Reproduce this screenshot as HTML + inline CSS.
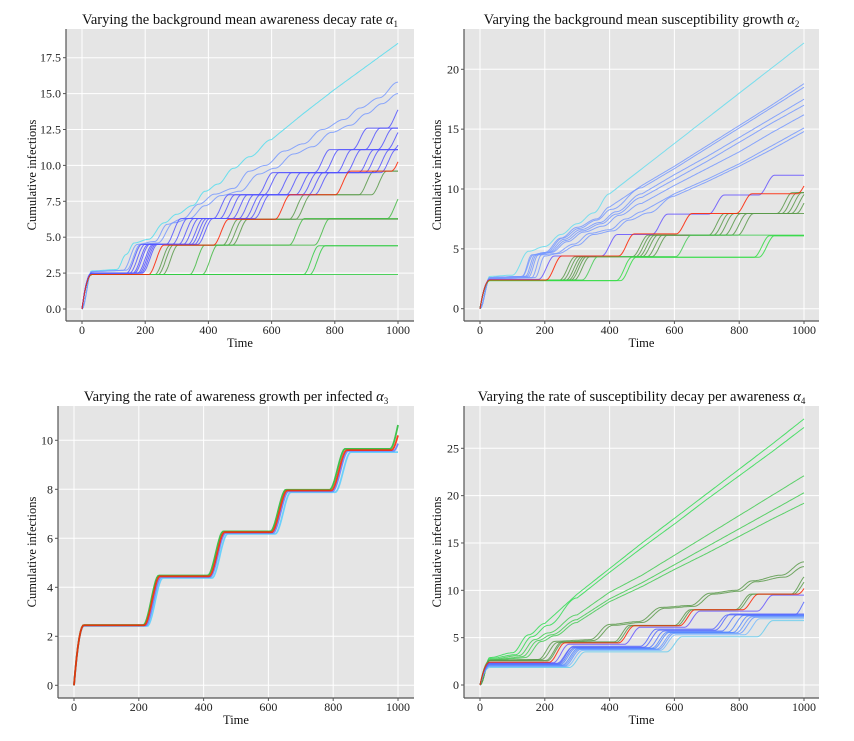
<!DOCTYPE html>
<html><head><meta charset="utf-8"><style>
html,body{margin:0;padding:0;background:#fff;}
svg{display:block;font-family:"Liberation Serif",serif;}
</style></head><body>
<svg id="chart" width="854" height="741" viewBox="0 0 854 741" xmlns="http://www.w3.org/2000/svg"></svg>
<script>
// ---------- data ----------
const xTicks = [0,200,400,600,800,1000];
const p1YTicks = [0,2.5,5,7.5,10,12.5,15,17.5];
const p2YTicks = [0,5,10,15,20];
const p3YTicks = [0,2,4,6,8,10];
const p4YTicks = [0,5,10,15,20,25];
const p1YLabels = ["0.0","2.5","5.0","7.5","10.0","12.5","15.0","17.5"];
const titles = ["Varying the background mean awareness decay rate ","Varying the background mean susceptibility growth ","Varying the rate of awareness growth per infected ","Varying the rate of susceptibility decay per awareness "];
const alphaSubs = ["1","2","3","4"];

// step series: lv = plateau levels, st = step times
const p1Steps = [
 {c:"#5a9a4a",lv:[2.4,4.45,6.25,7.95,9.6],st:[255,470,680,900]},
 {c:"#5a9a4a",lv:[2.4,4.45,6.25,7.95,9.6],st:[265,485,700,940]},
 {c:"#5a9a4a",lv:[2.4,4.45,6.25],st:[280,500]},
 {c:"#44bb44",lv:[2.4,4.45,6.3,8.0],st:[365,680,990]},
 {c:"#44bb44",lv:[2.4,4.45,6.3],st:[405,760]},
 {c:"#33cc44",lv:[2.4,4.4],st:[725]},
 {c:"#33cc44",lv:[2.4,4.4],st:[745]},
 {c:"#33cc44",lv:[2.4],st:[]},
 {c:"#5555ff",lv:[2.5,4.5,6.3,7.95,9.5,11.1,12.6,14.2],st:[165,290,440,580,760,880,990]},
 {c:"#5555ff",lv:[2.5,4.5,6.3,7.95,9.5,11.1,12.6],st:[175,310,460,600,790,920]},
 {c:"#5555ff",lv:[2.5,4.5,6.3,7.95,9.5,11.1,12.6],st:[185,330,480,640,830,960]},
 {c:"#5555ff",lv:[2.5,4.5,6.3,7.95,9.5,11.1,12.6],st:[190,345,500,670,860,990]},
 {c:"#5555ff",lv:[2.5,4.5,6.3,7.95,9.5,11.1,12.6],st:[200,360,520,700,900,1010]},
 {c:"#5555ff",lv:[2.5,4.5,6.3,7.95,9.5,11.1],st:[205,370,540,720,920]},
 {c:"#5555ff",lv:[2.5,4.5,6.3,7.95,9.5,11.1],st:[210,380,555,740,950]},
 {c:"#5555ff",lv:[2.5,4.5,6.3,7.95,9.5,11.1],st:[215,390,570,760,970]},
 {c:"#ff2200",lv:[2.4,4.45,6.25,7.95,9.6,11.2],st:[235,440,635,825,1003]}
];
const p1Pts = [
 {c:"#55ddee",p:[[0,0],[30,2.65],[110,2.75],[140,3.8],[165,4.6],[210,4.85],[260,6.0],[300,6.6],[350,7.2],[390,8.2],[430,8.7],[480,9.8],[530,10.6],[600,11.8],[700,13.6],[800,15.3],[900,16.9],[1000,18.5]]},
 {c:"#7799ff",p:[[0,0],[30,2.6],[130,2.7],[175,4.5],[230,4.7],[270,5.9],[320,6.3],[370,7.3],[420,8.0],[480,8.4],[530,9.6],[580,10.0],[640,11.0],[700,11.5],[760,12.5],[830,13.2],[880,14.0],[940,14.7],[1000,15.8]]},
 {c:"#7799ff",p:[[0,0],[30,2.6],[140,2.7],[185,4.5],[240,4.6],[290,6.0],[340,6.3],[390,7.2],[440,7.9],[500,8.2],[560,9.4],[610,9.8],[670,10.8],[730,11.3],[790,12.3],[850,12.8],[900,13.6],[950,14.3],[1000,15.0]]}
];
const p2Steps = [
 {c:"#5a9a4a",lv:[2.4,4.35,6.15,7.95,9.7],st:[270,495,730,940]},
 {c:"#5a9a4a",lv:[2.4,4.35,6.15,7.95,9.7],st:[280,505,745,955]},
 {c:"#5a9a4a",lv:[2.4,4.35,6.15,7.95,9.7],st:[290,515,760,970]},
 {c:"#5a9a4a",lv:[2.4,4.35,6.15,7.95,9.7],st:[298,525,780,985]},
 {c:"#5a9a4a",lv:[2.4,4.35,6.15,7.95,9.7],st:[305,540,800,1000]},
 {c:"#5a9a4a",lv:[2.4,4.35,6.15,7.95],st:[315,555,820]},
 {c:"#44cc55",lv:[2.4,4.35,6.15],st:[340,628]},
 {c:"#33dd44",lv:[2.35,4.3,6.1],st:[445,870]},
 {c:"#33dd44",lv:[2.35,4.3,6.1],st:[458,885]},
 {c:"#6655ff",lv:[2.45,4.4,6.2,7.9,9.5,11.15],st:[205,400,555,730,885]},
 {c:"#ff2200",lv:[2.4,4.4,6.25,7.95,9.6,11.2],st:[228,452,630,815,1003]}
];
const p2Pts = [
 {c:"#66ddee",p:[[0,0],[30,2.7],[100,2.8],[150,4.8],[200,5.2],[250,6.2],[300,7.1],[350,8.0],[400,9.6],[1000,22.2]]},
 {c:"#7799ff",p:[[0,0],[30,2.6],[130,2.7],[160,4.5],[200,4.7],[250,5.9],[300,6.8],[360,7.5],[400,8.5],[500,10.3],[600,11.9],[700,13.6],[800,15.3],[900,17.0],[1000,18.8]]},
 {c:"#7799ff",p:[[0,0],[30,2.6],[130,2.7],[165,4.5],[205,4.7],[255,5.9],[305,6.7],[360,7.4],[405,8.3],[500,10.1],[600,11.7],[700,13.4],[800,15.1],[900,16.8],[1000,18.5]]},
 {c:"#7799ff",p:[[0,0],[30,2.6],[140,2.7],[170,4.5],[210,4.7],[260,5.8],[310,6.6],[370,7.2],[420,8.1],[500,9.6],[600,11.2],[700,12.7],[800,14.3],[900,15.9],[1000,17.5]]},
 {c:"#7799ff",p:[[0,0],[30,2.6],[145,2.7],[175,4.5],[215,4.7],[265,5.7],[315,6.5],[375,7.1],[420,7.9],[500,9.3],[600,10.8],[700,12.3],[800,13.9],[900,15.5],[1000,17.0]]},
 {c:"#7799ff",p:[[0,0],[30,2.55],[150,2.65],[180,4.5],[220,4.7],[270,5.6],[320,6.4],[380,6.9],[430,7.8],[500,8.8],[600,10.3],[700,11.7],[800,13.1],[900,14.7],[1000,16.2]]},
 {c:"#7799ff",p:[[0,0],[30,2.5],[160,2.6],[190,4.5],[230,4.6],[290,5.4],[340,6.3],[400,6.6],[450,7.5],[500,8.1],[600,9.6],[700,10.8],[800,12.1],[900,13.6],[1000,15.1]]},
 {c:"#7799ff",p:[[0,0],[30,2.5],[170,2.6],[200,4.4],[240,4.6],[300,5.3],[350,6.2],[410,6.5],[460,7.4],[520,8.0],[600,9.4],[700,10.6],[800,11.9],[900,13.3],[1000,14.8]]}
];
const p3Steps = [
 {c:"#55ccff",lv:[2.42,4.38,6.18,7.88,9.52,9.8],st:[250,450,645,830,1040]},
 {c:"#6677ff",lv:[2.44,4.42,6.22,7.92,9.57,11.0],st:[245,444,638,822,1010]},
 {c:"#22bb33",lv:[2.46,4.48,6.28,7.98,9.65,11.6],st:[238,437,630,813,1000]},
 {c:"#ff2200",lv:[2.45,4.45,6.25,7.95,9.6,11.2],st:[241,441,634,818,1004]}
];
const p3Pts = [];
const p4Steps = [
 {c:"#66ccee",lv:[1.85,3.5,5.1,6.8],st:[300,600,880]},
 {c:"#77bbff",lv:[1.95,3.65,5.3,7.0],st:[292,580,840]},
 {c:"#6699ff",lv:[2.0,3.75,5.45,7.15],st:[286,575,825]},
 {c:"#6699ff",lv:[2.05,3.8,5.5,7.2],st:[282,570,815]},
 {c:"#5588ff",lv:[2.1,3.85,5.55,7.3],st:[278,560,805]},
 {c:"#5588ff",lv:[2.15,3.9,5.6,7.35],st:[272,555,790]},
 {c:"#5577ff",lv:[2.2,3.95,5.7,7.4],st:[268,545,770]},
 {c:"#5566ff",lv:[2.3,4.0,5.8,7.5],st:[262,530,750]},
 {c:"#5566ff",lv:[2.25,4.1,5.9,7.4,9.5],st:[265,520,740,995]},
 {c:"#6655ff",lv:[2.35,4.3,6.1,7.8,9.5],st:[250,470,655,880]},
 {c:"#5a9a4a",lv:[2.6,4.55,6.3,7.95,9.6,11.6],st:[228,438,625,812,985]},
 {c:"#5a9a4a",lv:[2.55,4.5,6.25,7.95,9.6,11.3],st:[232,445,632,820,992]},
 {c:"#ff2200",lv:[2.4,4.45,6.25,7.95,9.6,11.3],st:[238,452,640,835,1005]}
];
const p4Pts = [
 {c:"#33dd55",p:[[0,0],[30,2.9],[100,3.4],[150,5.3],[200,6.5],[300,9.6],[400,12.3],[500,15.0],[600,17.6],[700,20.2],[800,22.8],[900,25.4],[1000,28.1]]},
 {c:"#33dd55",p:[[0,0],[30,2.8],[110,3.2],[160,5.1],[210,6.3],[300,9.2],[400,11.9],[500,14.5],[600,17.0],[700,19.6],[800,22.1],[900,24.6],[1000,27.2]]},
 {c:"#44cc55",p:[[0,0],[30,2.7],[120,3.1],[170,4.8],[210,5.5],[300,7.4],[400,9.8],[500,11.6],[600,13.7],[700,15.8],[800,17.9],[900,20.0],[1000,22.1]]},
 {c:"#44cc55",p:[[0,0],[30,2.6],[130,3.0],[180,4.7],[220,5.3],[300,6.9],[400,9.1],[500,10.8],[600,12.7],[700,14.6],[800,16.5],[900,18.4],[1000,20.3]]},
 {c:"#44cc55",p:[[0,0],[30,2.6],[140,2.9],[190,4.6],[230,5.2],[300,6.6],[400,8.8],[500,10.4],[600,12.2],[700,13.9],[800,15.7],[900,17.5],[1000,19.2]]},
 {c:"#5a9a4a",p:[[0,0],[30,2.6],[180,2.7],[230,4.6],[340,4.8],[400,6.4],[490,6.7],[560,8.2],[650,8.4],[710,9.7],[790,10.0],[840,11.0],[930,11.6],[1000,13.0]]},
 {c:"#5a9a4a",p:[[0,0],[30,2.6],[190,2.7],[240,4.5],[350,4.7],[410,6.3],[500,6.6],[570,8.1],[660,8.3],[720,9.6],[800,9.9],[850,10.9],[940,11.4],[1000,12.5]]}
];

// ---------- layout ----------
const panels = [
 {L:66,R:414,T:29,B:321,xa:82,xb:398,y0:309,yr:57.7,yv:17.5,yt:p1YTicks,yl:p1YLabels,steps:p1Steps,pts:p1Pts,lw:1},
 {L:464,R:819,T:29,B:321,xa:480,xb:804,y0:308.7,yr:69.3,yv:20,yt:p2YTicks,yl:null,steps:p2Steps,pts:p2Pts,lw:1},
 {L:58,R:414,T:406,B:698,xa:74,xb:398,y0:685.3,yr:440.3,yv:10,yt:p3YTicks,yl:null,steps:p3Steps,pts:p3Pts,lw:1.8},
 {L:464,R:819,T:406,B:698,xa:480,xb:804,y0:685,yr:448.3,yv:25,yt:p4YTicks,yl:null,steps:p4Steps,pts:p4Pts,lw:1}
];
const NS="http://www.w3.org/2000/svg";
const svg=document.getElementById('chart');
function mk(tag,attrs,parent){const e=document.createElementNS(NS,tag);for(const k in attrs)e.setAttribute(k,attrs[k]);(parent||svg).appendChild(e);return e;}
function smooth(f){f=Math.max(0,Math.min(1,f));return f*f*(3-2*f);}
function stepVal(s,t){
  if(t<30){const f=t/30;return s.lv[0]*(1-(1-f)*(1-f));}
  let v=s.lv[0];
  for(let i=0;i<s.st.length;i++){const d=s.lv[i+1]-s.lv[i];v+=d*smooth((t-(s.st[i]-24))/48);}
  return v;
}
function ptsVal(p,t){
  for(let i=1;i<p.length;i++){if(t<=p[i][0]){const a=p[i-1],b=p[i];const f=(t-a[0])/(b[0]-a[0]);const g=(1-Math.cos(Math.PI*f))/2;const lin=a[1]+(b[1]-a[1])*f;const cs=a[1]+(b[1]-a[1])*g;return (b[0]-a[0])>=100?lin:cs;}}
  return p[p.length-1][1];
}
panels.forEach((P,pi)=>{
  const g=mk('g',{});
  
  
  const sx=t=>P.xa+(P.xb-P.xa)*t/1000;
  const sy=v=>P.y0-(P.y0-P.yr)*v/P.yv;
  const bg=mk('rect',{x:P.L,y:P.T,width:P.R-P.L,height:P.B-P.T,fill:'#e5e5e5'},g);
  
  
  xTicks.forEach(t=>{
    const l=mk('line',{x1:sx(t),x2:sx(t),y1:P.T,y2:P.B,stroke:'#fff','stroke-width':1},g);
    
    
    mk('line',{x1:sx(t),x2:sx(t),y1:P.B,y2:P.B+3,stroke:'#555','stroke-width':1},g);
    const tx=mk('text',{x:sx(t),y:P.B+13,'text-anchor':'middle','font-size':12,fill:'#222'},g);
    tx.textContent=t;
    
    
  });
  P.yt.forEach((v,i)=>{
    const l=mk('line',{x1:P.L,x2:P.R,y1:sy(v),y2:sy(v),stroke:'#fff','stroke-width':1},g);
    
    
    mk('line',{x1:P.L-3,x2:P.L,y1:sy(v),y2:sy(v),stroke:'#555','stroke-width':1},g);
    const tx=mk('text',{x:P.L-5,y:sy(v)+4,'text-anchor':'end','font-size':12,fill:'#222'},g);
    tx.textContent=P.yl?P.yl[i]:v;
    
    
  });
  const draw=(fn,c)=>{
    let d='';
    for(let t=0;t<=1000;t+=4){d+=(t?'L':'M')+sx(t).toFixed(1)+' '+sy(fn(t)).toFixed(1);}
    const p=mk('path',{d:d,fill:'none',stroke:c,'stroke-width':P.lw,'stroke-opacity':0.85},g);
    
    
  };
  P.pts.forEach(s=>draw(t=>ptsVal(s.p,t),s.c));
  P.steps.forEach(s=>draw(t=>stepVal(s,t),s.c));
  mk('line',{x1:P.L,x2:P.L,y1:P.T,y2:P.B,stroke:'#555','stroke-width':1.2},g);
  mk('line',{x1:P.L,x2:P.R,y1:P.B,y2:P.B,stroke:'#555','stroke-width':1.2},g);
  const ti=mk('text',{x:(P.L+P.R)/2,y:P.T-5,'text-anchor':'middle','font-size':14.5,fill:'#111'},g);
  ti.textContent=titles[pi];
  const al=mk('tspan',{'font-style':'italic'},ti);al.textContent='\u03B1';
  const sb=mk('tspan',{'font-size':9,dy:3},ti);sb.textContent=alphaSubs[pi];
  
  
  const xl=mk('text',{x:(P.L+P.R)/2,y:P.B+26,'text-anchor':'middle','font-size':12.5,fill:'#111'},g);
  xl.textContent='Time';
  
  
  const yx=P.L<100?36:441, yc=(P.T+P.B)/2;
  const yl=mk('text',{x:yx,y:yc,'text-anchor':'middle','font-size':12.5,fill:'#111',transform:'rotate(-90 '+yx+' '+yc+')'},g);
  yl.textContent='Cumulative infections';
  
  
});
</script>
</body></html>
